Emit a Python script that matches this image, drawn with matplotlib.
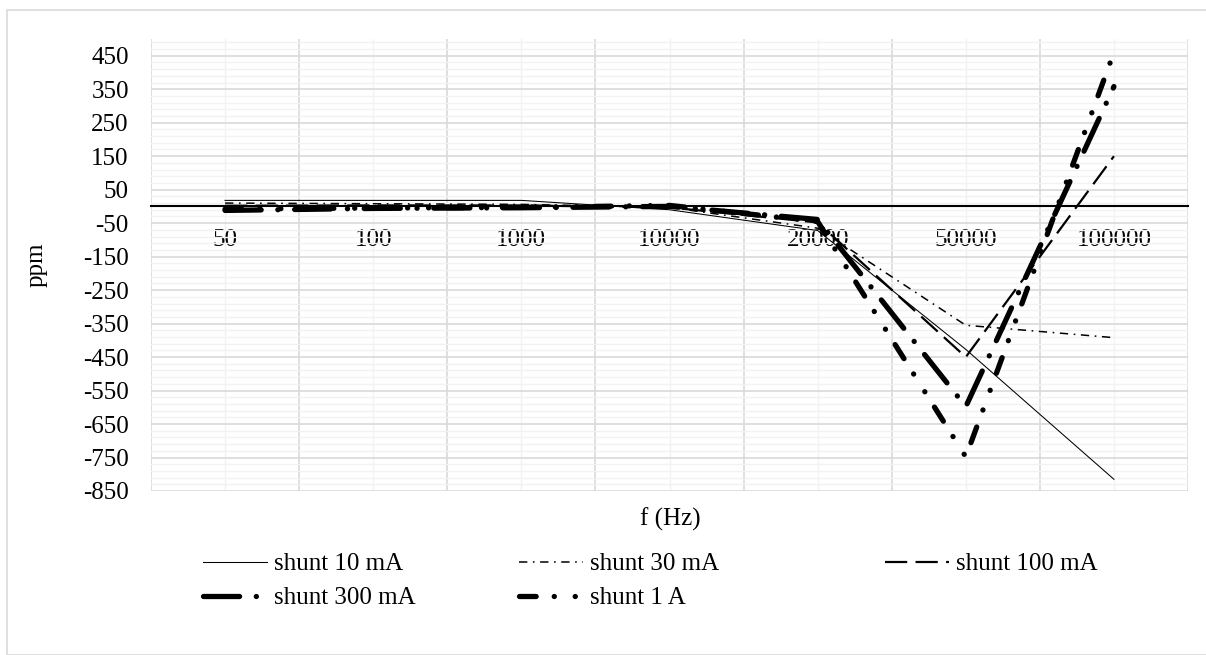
import matplotlib
matplotlib.use("Agg")
import matplotlib.pyplot as plt
from matplotlib.patches import Rectangle
import numpy as np

plt.rcParams['font.family'] = ['Liberation Serif', 'DejaVu Serif']
plt.rcParams['font.size'] = 18
plt.rcParams['lines.scale_dashes'] = False
plt.rcParams['axes.unicode_minus'] = False

# data
freqs = ["50", "100", "1000", "10000", "20000", "50000", "100000"]
shunt_10mA = [18, 18, 18, -10, -72, -427, -815]
shunt_30mA = [10, 8, 6, -3, -65, -355, -392]
shunt_100mA = [2, 3, 3, -3, -48, -450, 150]
shunt_300mA = [-12, -6, -4, 0, -39, -598, 358]
shunt_1A = [-8, -5, -3, 3, -45, -748, 460]

W, H = 1206, 655
fig = plt.figure(figsize=(W / 100, H / 100), dpi=100)
fig.patches.append(Rectangle((7 / W, 0), 1.0, (H - 10) / H, transform=fig.transFigure,
                             fill=False, edgecolor="#d9d9d9", lw=1.2))

ax = fig.add_axes([151 / W, (H - 491) / H, (1188 - 151) / W, (491 - 39) / H])
x = np.arange(len(freqs))

l1, = ax.plot(x, shunt_10mA, color="black", lw=0.75, label="shunt 10 mA")
l2, = ax.plot(x, shunt_30mA, color="black", lw=1.1, dashes=(6, 4, 1.2, 4), label="shunt 30 mA")
l3, = ax.plot(x, shunt_100mA, color="black", lw=1.6, dashes=(16, 6), label="shunt 100 mA")
l4, = ax.plot(x, shunt_300mA, color="black", lw=3.8, dashes=(26, 12, 0.1, 12),
              dash_capstyle="round", label="shunt 300 mA")
l5, = ax.plot(x, shunt_1A, color="black", lw=3.8, dashes=(12, 13, 0.1, 15, 0.1, 13),
              dash_capstyle="round", label="shunt 1 A")

ax.set_xlim(-0.5, 6.5)
ax.set_ylim(-850, 500)

# gridlines: major at category borders / every 100, minor at centres / every 20
ax.set_xticks(np.arange(-0.5, 7, 1))
ax.set_xticklabels([])
ax.set_xticks(x, minor=True)
ax.set_xticklabels(freqs, minor=True)
ax.set_yticks(np.arange(-850, 451, 100))
ax.set_yticks(np.arange(-850, 501, 20), minor=True)
ax.grid(which="major", color="#d9d9d9", lw=1.2)
ax.grid(which="minor", color="#f2f2f2", lw=1.0)
ax.set_axisbelow(True)

ax.tick_params(axis="both", which="both", length=0)
ax.tick_params(axis="x", which="minor", pad=16)
ax.tick_params(axis="y", pad=16)

for s in ["top", "right", "left"]:
    ax.spines[s].set_visible(False)
ax.spines["bottom"].set_position(("data", 0))
ax.spines["bottom"].set_color("black")
ax.spines["bottom"].set_linewidth(1.5)
ax.spines["bottom"].set_zorder(1.5)

fig.text(670 / W, 1 - 519 / H, "f (Hz)", ha="center", va="center")
fig.text(37 / W, 1 - 265 / H, "ppm", ha="center", va="center", rotation=90)

# legend in three columns, placed like the original
leg_kw = dict(frameon=False, loc="upper left", handlelength=2.55, handletextpad=0.3,
              labelspacing=0.45, borderpad=0, borderaxespad=0)
for hs, x0 in [([l1, l4], 203), ([l2, l5], 519), ([l3], 885)]:
    fig.legend(handles=hs, bbox_to_anchor=(x0 / W, 1 - 553 / H), **leg_kw)

fig.savefig("out.png", dpi=100)
